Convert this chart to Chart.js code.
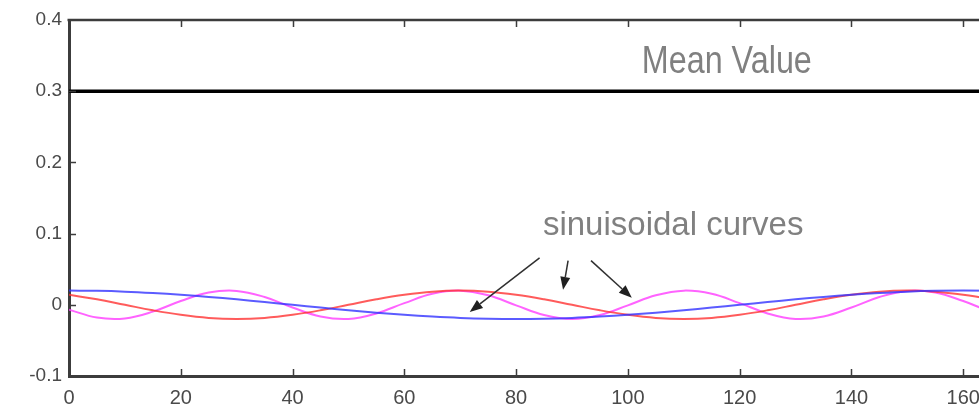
<!DOCTYPE html>
<html>
<head>
<meta charset="utf-8">
<script src="https://cdn.jsdelivr.net/npm/chart.js@4/dist/chart.umd.min.js"></script>
<style>
  html, body { margin: 0; padding: 0; background: #fff; overflow: hidden; }
  #wrap { width: 1080px; height: 409px; }
</style>
</head>
<body>
<div id="wrap"><canvas id="chart" width="1080" height="409"></canvas></div>
<script>
const xs = [0, 5, 10, 15, 20, 25, 30, 35, 40, 45, 50, 55, 60, 65, 70, 75, 80, 85,
  90, 95, 100, 105, 110, 115, 120, 125, 130, 135, 140, 145, 150, 155, 160, 165, 170, 175];

const blueCurve = [0.0200, 0.0196, 0.0185, 0.0166, 0.0141, 0.0111, 0.0077, 0.0039, 0.0000,
  -0.0039, -0.0077, -0.0111, -0.0141, -0.0166, -0.0185, -0.0196, -0.0200, -0.0196,
  -0.0185, -0.0166, -0.0141, -0.0111, -0.0077, -0.0039, 0.0000, 0.0039, 0.0077,
  0.0111, 0.0141, 0.0166, 0.0185, 0.0196, 0.0200, 0.0196, 0.0185, 0.0166];

const redCurve = [0.0141, 0.0077, 0.0000, -0.0077, -0.0141, -0.0185, -0.0200, -0.0185,
  -0.0141, -0.0077, 0.0000, 0.0077, 0.0141, 0.0185, 0.0200, 0.0185, 0.0141, 0.0077,
  0.0000, -0.0077, -0.0141, -0.0185, -0.0200, -0.0185, -0.0141, -0.0077, 0.0000,
  0.0077, 0.0141, 0.0185, 0.0200, 0.0185, 0.0141, 0.0077, 0.0000, -0.0077];

const magentaCurve = [-0.0068, -0.0179, -0.0191, -0.0096, 0.0053, 0.0172, 0.0195, 0.0109,
  -0.0038, -0.0164, -0.0198, -0.0121, 0.0023, 0.0154, 0.0199, 0.0133, -0.0008, -0.0144,
  -0.0200, -0.0144, -0.0008, 0.0133, 0.0199, 0.0154, 0.0023, -0.0121, -0.0198, -0.0164,
  -0.0038, 0.0109, 0.0195, 0.0172, 0.0053, -0.0096, -0.0191, -0.0179];

const meanValue = 0.3;
const xRange = [0, 180];
const yRange = [-0.1, 0.4];
const xTicks = [0, 20, 40, 60, 80, 100, 120, 140, 160, 180];
const yTicks = [-0.1, 0, 0.1, 0.2, 0.3, 0.4];

// annotations in data units
const meanLabel = { text: 'Mean Value', x: 117.7, y: 0.325 };
const curvesLabel = { text: 'sinuisoidal curves', x: 108.1, y: 0.098 };
const arrows = [
  { from: [84.2, 0.066], to: [71.7, -0.010] },
  { from: [89.3, 0.062], to: [88.4, 0.021] },
  { from: [93.4, 0.062], to: [100.7, 0.010] }
];

const AXIS = '#3c3c3c';

function toPoints(vals) {
  return vals.map((v, i) => ({ x: xs[i], y: v }));
}

// top border + inward tick marks, like the original plot frame
const framePlugin = {
  id: 'frame',
  afterDatasetsDraw(chart) {
    const { ctx, chartArea: a, scales: { x, y } } = chart;
    ctx.save();
    ctx.strokeStyle = AXIS;
    ctx.lineWidth = 2.5;
    ctx.beginPath();
    ctx.moveTo(a.left - 1.5, a.top);
    ctx.lineTo(a.right, a.top);
    ctx.stroke();

    ctx.lineWidth = 1.5;
    ctx.beginPath();
    xTicks.forEach(t => {
      if (t === xRange[0]) return;
      const px = Math.round(x.getPixelForValue(t)) + 0.5;
      ctx.moveTo(px, a.bottom); ctx.lineTo(px, a.bottom - 7);
      ctx.moveTo(px, a.top); ctx.lineTo(px, a.top + 7);
    });
    yTicks.forEach(t => {
      if (t === yRange[0] || t === yRange[1]) return;
      const py = Math.round(y.getPixelForValue(t)) + 0.5;
      ctx.moveTo(a.left, py); ctx.lineTo(a.left + 7, py);
    });
    ctx.stroke();
    ctx.restore();
  }
};

const notePlugin = {
  id: 'notes',
  afterDraw(chart) {
    const { ctx, scales: { x, y } } = chart;
    ctx.save();
    ctx.fillStyle = '#808080';
    ctx.textAlign = 'center';
    ctx.textBaseline = 'alphabetic';

    // "Mean Value" looks a bit squeezed sideways in the source
    ctx.save();
    ctx.translate(x.getPixelForValue(meanLabel.x), y.getPixelForValue(meanLabel.y));
    ctx.scale(0.85, 1);
    ctx.font = '38px "Liberation Sans", Arial, sans-serif';
    ctx.fillText(meanLabel.text, 0, 0);
    ctx.restore();

    ctx.font = '33px "Liberation Sans", Arial, sans-serif';
    ctx.fillText(curvesLabel.text, x.getPixelForValue(curvesLabel.x), y.getPixelForValue(curvesLabel.y));

    ctx.strokeStyle = '#303030';
    ctx.fillStyle = '#202020';
    ctx.lineWidth = 1.5;
    arrows.forEach(ar => {
      const x0 = x.getPixelForValue(ar.from[0]), y0 = y.getPixelForValue(ar.from[1]);
      const x1 = x.getPixelForValue(ar.to[0]), y1 = y.getPixelForValue(ar.to[1]);
      const ang = Math.atan2(y1 - y0, x1 - x0);
      const len = 13, half = 5;
      const bx = x1 - len * Math.cos(ang), by = y1 - len * Math.sin(ang);
      ctx.beginPath();
      ctx.moveTo(x0, y0); ctx.lineTo(bx, by);
      ctx.stroke();
      ctx.beginPath();
      ctx.moveTo(x1, y1);
      ctx.lineTo(bx + half * Math.sin(ang), by - half * Math.cos(ang));
      ctx.lineTo(bx - half * Math.sin(ang), by + half * Math.cos(ang));
      ctx.closePath();
      ctx.fill();
    });
    ctx.restore();
  }
};

function curve(vals, color) {
  return {
    data: toPoints(vals),
    borderColor: color,
    borderWidth: 2,
    pointRadius: 0,
    tension: 0.4,
    fill: false
  };
}

new Chart(document.getElementById('chart'), {
  type: 'line',
  data: {
    datasets: [
      {
        data: [{ x: xRange[0], y: meanValue }, { x: xRange[1], y: meanValue }],
        borderColor: '#000',
        borderWidth: 3.5,
        pointRadius: 0
      },
      curve(blueCurve, 'rgba(50,50,255,0.8)'),
      curve(redCurve, 'rgba(255,50,50,0.8)'),
      curve(magentaCurve, 'rgba(255,60,255,0.8)')
    ]
  },
  options: {
    responsive: false,
    animation: false,
    devicePixelRatio: 1,
    layout: { padding: { top: 20, right: 5, left: 0, bottom: 0 } },
    plugins: { legend: { display: false }, tooltip: { enabled: false } },
    scales: {
      x: {
        type: 'linear',
        min: xRange[0],
        max: xRange[1],
        afterFit: s => { s.height = 33; s.paddingLeft = 0; s.paddingRight = 0; },
        afterBuildTicks: s => { s.ticks = xTicks.map(v => ({ value: v })); },
        grid: { display: false, drawTicks: false },
        border: { display: true, color: AXIS, width: 3 },
        ticks: {
          color: '#4a4a4a',
          padding: 10,
          font: { family: '"Liberation Sans", Arial, sans-serif', size: 20 },
          callback: v => String(v)
        }
      },
      y: {
        min: yRange[0],
        max: yRange[1],
        afterFit: s => { s.width = 69; s.paddingTop = 0; s.paddingBottom = 0; },
        afterBuildTicks: s => { s.ticks = yTicks.map(v => ({ value: v })); },
        grid: { display: false, drawTicks: false },
        border: { display: true, color: AXIS, width: 3 },
        ticks: {
          color: '#4a4a4a',
          padding: 7,
          font: { family: '"Liberation Sans", Arial, sans-serif', size: 19 },
          callback: v => String(Number(v.toFixed(1)))
        }
      }
    }
  },
  plugins: [framePlugin, notePlugin]
});
</script>
</body>
</html>
